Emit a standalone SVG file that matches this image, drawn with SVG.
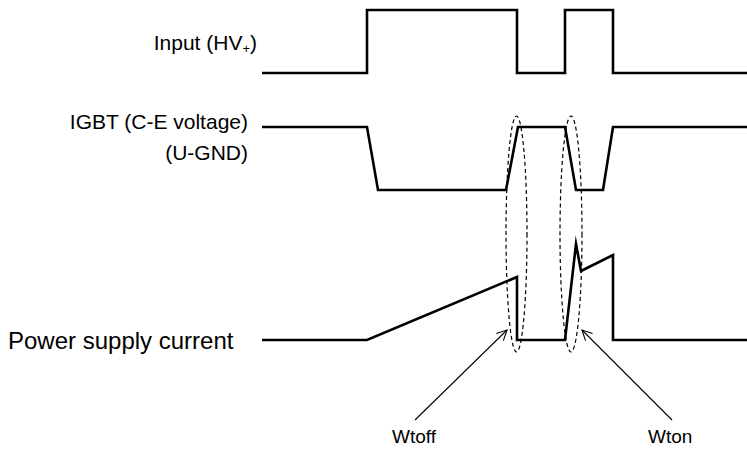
<svg xmlns="http://www.w3.org/2000/svg" width="747" height="450" viewBox="0 0 747 450">
<defs>
<style>
.w{fill:none;stroke:#000;stroke-width:2.6;stroke-linejoin:miter;stroke-miterlimit:10}
.e{fill:none;stroke:#000;stroke-width:1.2;stroke-dasharray:4 3}
.a{fill:none;stroke:#000;stroke-width:1.1}
.t{font-family:"Liberation Sans",Arial,sans-serif;fill:#000}
.l{font-size:21px;text-anchor:end}
</style>
<marker id="arr" viewBox="0 0 12 12" refX="11" refY="6" markerWidth="12" markerHeight="12" markerUnits="userSpaceOnUse" orient="auto">
<path d="M1,1 L11,6 L1,11" fill="none" stroke="#000" stroke-width="1.1"/>
</marker>
</defs>
<rect width="747" height="450" fill="#fff"/>
<g id="input">
<text class="t l" x="257" y="50">Input (HV<tspan font-size="13" dy="3">+</tspan><tspan dy="-3">)</tspan></text>
<path class="w" d="M262,73 H367 V10 H517 V73 H565 V10 H613 V73 H747"/>
</g>
<g id="igbt">
<text class="t l" x="248" y="129">IGBT (C-E voltage)</text>
<text class="t l" x="248" y="160">(U-GND)</text>
<path class="w" d="M262,127 H367 L378,190 H506 L518,127 H565 L576,190 H603 L613,127 H747"/>
</g>
<g id="current">
<text class="t" x="8" y="349" font-size="24">Power supply current</text>
<path class="w" d="M262,340 H367 L517,277 V340 H565 L576,244 L581,271 L613,255 V340 H747"/>
</g>
<g id="wtoff">
<ellipse class="e" cx="516.5" cy="234" rx="10.5" ry="118"/>
<text class="t" x="392" y="443" font-size="19">Wtoff</text>
</g>
<g id="wton">
<ellipse class="e" cx="571" cy="234" rx="11" ry="118"/>
<text class="t" x="648" y="443" font-size="19">Wton</text>
</g>
<g id="connectors">
<line class="a" x1="415" y1="420" x2="507" y2="330" marker-end="url(#arr)"/>
<line class="a" x1="672" y1="420" x2="582" y2="330" marker-end="url(#arr)"/>
</g>
</svg>
